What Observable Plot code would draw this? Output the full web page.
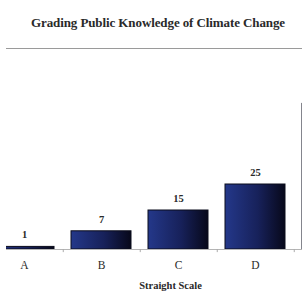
<!DOCTYPE html>
<html>
<head>
<meta charset="utf-8">
<script src="https://cdn.jsdelivr.net/npm/d3@7"></script>
<script src="https://cdn.jsdelivr.net/npm/@observablehq/plot@0.6"></script>
<style>
  html, body { margin: 0; padding: 0; background: #fff; }
  #wrap { width: 302px; height: 299px; overflow: hidden; position: relative; background: #fff; }
  #title { position: absolute; left: 6px; top: 0; width: 296px; height: 49px; border-bottom: 1.5px solid #9a9a9a;
           font-family: "Liberation Serif", "DejaVu Serif", serif; font-weight: bold; font-size: 13px; color: #2a2a2a;
           text-align: center; line-height: 46px; padding-left: 8px; box-sizing: border-box; letter-spacing: -0.1px; }
  #chart { position: absolute; left: 0; top: 51px; }
</style>
</head>
<body>
<div id="wrap">
  <div id="title">Grading Public Knowledge of Climate Change</div>
  <div id="chart"></div>
</div>
<script>
const titleText = "Grading Public Knowledge of Climate Change";
const categories = ["A", "B", "C", "D", "E"];
const values = [1, 7, 15, 25, 56];
const valueLabels = ["1", "7", "15", "25", ""];
const xLabel = "Straight Scale";

document.getElementById("title").textContent = titleText;
const data = categories.map((c, i) => ({cat: c, value: values[i], label: valueLabels[i]}));

const chart = Plot.plot({
  width: 302,
  height: 248,
  marginLeft: 6,
  marginRight: 0,
  marginTop: 42,
  marginBottom: 50,
  style: {fontFamily: "'Liberation Serif', 'DejaVu Serif', serif", background: "transparent", color: "#333"},
  x: {domain: categories, range: [-16.25, 371.25], paddingInner: 0.226, paddingOuter: 0.113, axis: null},
  y: {domain: [0, 60], axis: null},
  marks: [
    Plot.ruleY([0], {stroke: "#b5b5b5", strokeWidth: 1}),
    Plot.ruleX(categories.slice(0, 4), {x: d => d, dx: 38.75, y1: 0, y2: -1.2, stroke: "#aaa"}),
    Plot.barY(data, {x: "cat", y: "value", fill: "url(#barGrad)", stroke: "#0b0c1c", strokeWidth: 1, clip: true}),
    Plot.text(data, {x: "cat", y: "value", text: "label", dy: -12, fontSize: 10.5, fontWeight: "bold", fill: "#2a2a2a"}),
    Plot.text(categories.slice(0, 4), {x: d => d, frameAnchor: "bottom", dy: 19, fontSize: 11.5, fill: "#2a2a2a"}),
    Plot.text([xLabel], {frameAnchor: "bottom", dx: 16, dy: 39, fontSize: 10.5, fontWeight: "bold", fill: "#2a2a2a"})
  ]
});

const ns = "http://www.w3.org/2000/svg";
const defs = document.createElementNS(ns, "defs");
defs.innerHTML = `<linearGradient id="barGrad" x1="0" x2="1" y1="0" y2="0">
  <stop offset="0" stop-color="#24388a"/>
  <stop offset="0.55" stop-color="#17215a"/>
  <stop offset="1" stop-color="#07081a"/>
</linearGradient>`;
chart.insertBefore(defs, chart.firstChild);
document.getElementById("chart").appendChild(chart);
</script>
</body>
</html>
